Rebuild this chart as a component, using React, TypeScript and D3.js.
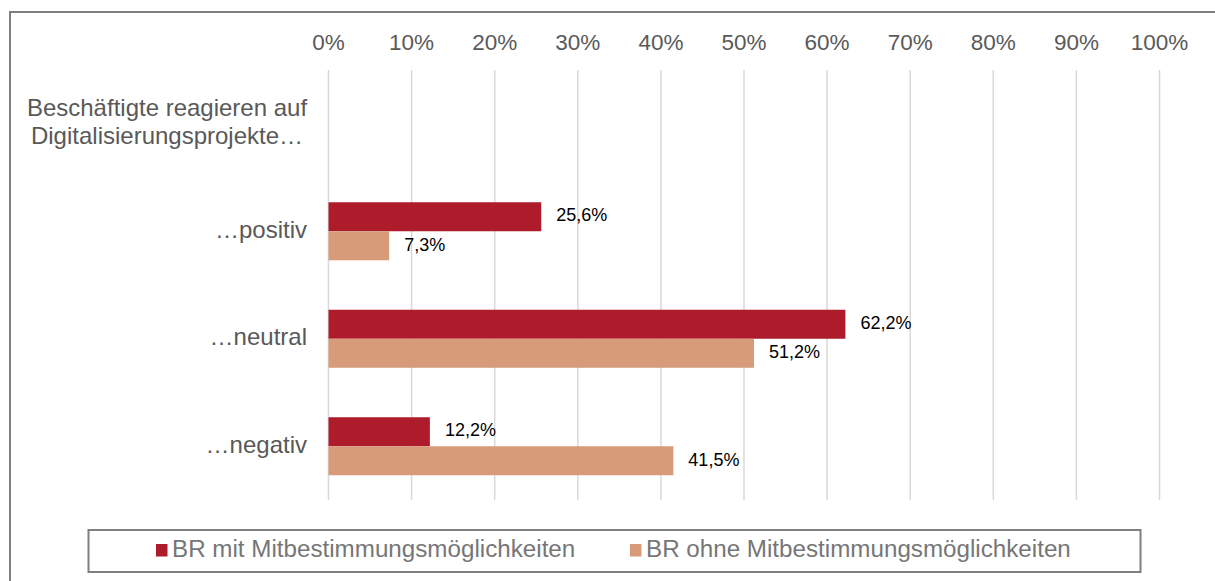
import React from 'react';
import * as d3 from 'd3';

const categories = ['header', '…positiv', '…neutral', '…negativ'];
const headerLines = ['Beschäftigte reagieren auf', 'Digitalisierungsprojekte…'];
const seriesNames = ['BR mit Mitbestimmungsmöglichkeiten', 'BR ohne Mitbestimmungsmöglichkeiten'];
const seriesColors = ['#AE1C2C', '#D79B7A'];
// values in %, per category (header row has none)
const mitValues = [null, 25.6, 62.2, 12.2];
const ohneValues = [null, 7.3, 51.2, 41.5];
const ticks = [0, 10, 20, 30, 40, 50, 60, 70, 80, 90, 100];

const W = 1215;
const H = 581;
const font = '"Liberation Sans", Arial, sans-serif';
const gray = '#595959';

const App = () => {
  const x = d3.scaleLinear().domain([0, 100]).range([328.5, 1159.5]);
  const y = d3.scaleBand().domain(categories).range([70, 500]).padding(0);
  const inner = d3
    .scaleBand()
    .domain(seriesNames)
    .range([0, y.bandwidth()])
    .paddingInner(0)
    .paddingOuter(0.853);

  const series = [mitValues, ohneValues];
  const fmt = (v: number) => v.toFixed(1).replace('.', ',') + '%';

  return (
    <svg
      width={W}
      height={H}
      style={{ position: 'absolute', left: 0, top: 0, background: '#fff' }}
      fontFamily={font}
    >
      <rect x={10} y={12} width={1230} height={600} fill="#fff" stroke="#7f7f7f" strokeWidth={2} />

      {/* gridlines */}
      {ticks.map(t => (
        <line key={t} x1={x(t)} x2={x(t)} y1={70} y2={500} stroke="#d9d9d9" strokeWidth={1.5} />
      ))}

      {/* tick labels on top */}
      {ticks.map(t => (
        <text key={'t' + t} x={x(t)} y={44} textAnchor="middle" dominantBaseline="middle" fontSize={22.5} fill={gray}>
          {t}%
        </text>
      ))}

      {/* category labels */}
      {categories.map((c, i) => {
        const cy = y(c)! + y.bandwidth() / 2;
        if (i === 0) {
          return (
            <g key={c}>
              {headerLines.map((l, j) => (
                <text key={j} x={167} y={cy - 14 + j * 28} textAnchor="middle" dominantBaseline="middle" fontSize={24} fill={gray}>
                  {l}
                </text>
              ))}
            </g>
          );
        }
        return (
          <text key={c} x={307} y={cy} textAnchor="end" dominantBaseline="middle" fontSize={24} fill={gray}>
            {c}
          </text>
        );
      })}

      {/* bars */}
      {series.map((vals, si) =>
        vals.map((v, ci) => {
          if (v == null) return null;
          const by = y(categories[ci])! + inner(seriesNames[si])!;
          return (
            <g key={si + '-' + ci}>
              <rect x={x(0)} y={by} width={x(v) - x(0)} height={inner.bandwidth()} fill={seriesColors[si]} />
              <text
                x={x(v) + 15}
                y={by + inner.bandwidth() / 2}
                dominantBaseline="middle"
                fontSize={18}
                fill="#000"
              >
                {fmt(v)}
              </text>
            </g>
          );
        })
      )}

      {/* legend */}
      <rect x={88.5} y={530} width={1052} height={42} fill="#fff" stroke="#7f7f7f" strokeWidth={2} />
      {seriesNames.map((s, i) => {
        const lx = i === 0 ? 156 : 630;
        return (
          <g key={s}>
            <rect x={lx} y={544} width={11.5} height={12.5} fill={seriesColors[i]} />
            <text x={lx + 16} y={551} dominantBaseline="middle" fontSize={24.2} fill="#767676">
              {s}
            </text>
          </g>
        );
      })}
    </svg>
  );
};

export default App;
